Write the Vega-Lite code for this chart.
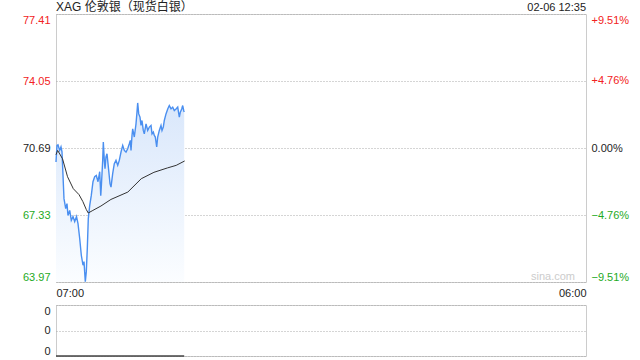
{
  "$schema": "https://vega.github.io/schema/vega-lite/v6.json",
  "padding": {"left": 15, "top": 0, "right": 0, "bottom": 0},
  "background": "white",
  "config": {
    "font": "Liberation Sans, Noto Sans CJK SC, sans-serif",
    "view": {"stroke": "#cccccc"},
    "axis": {"labelFontSize": 11, "labelColor": "#222222", "labelFont": "Liberation Sans", "domain": false, "ticks": false, "gridColor": "#aaaaaa", "gridDash": [1, 2], "gridWidth": 1}
  },
  "datasets": {
    "price": [
      {"t": 0, "price": 69.99}, {"t": 2.6, "price": 70.82}, {"t": 5.2, "price": 70.85}, {"t": 9.6, "price": 70.57},
      {"t": 13, "price": 70.75}, {"t": 15.6, "price": 70.5}, {"t": 18.2, "price": 69.32}, {"t": 20.8, "price": 68.15},
      {"t": 25.3, "price": 67.65}, {"t": 28.6, "price": 67.9}, {"t": 31.2, "price": 67.31}, {"t": 35.7, "price": 67.56},
      {"t": 39.8, "price": 67.06}, {"t": 44.3, "price": 67.25}, {"t": 48.7, "price": 67.0}, {"t": 53.4, "price": 67.25},
      {"t": 57.3, "price": 66.9}, {"t": 61.7, "price": 66.15}, {"t": 65.9, "price": 65.31}, {"t": 70.3, "price": 64.81},
      {"t": 72.9, "price": 64.99}, {"t": 76.3, "price": 63.99}, {"t": 78.9, "price": 64.49}, {"t": 81.5, "price": 65.65},
      {"t": 84.1, "price": 67.15}, {"t": 87.8, "price": 67.81}, {"t": 91.9, "price": 68.31}, {"t": 96.3, "price": 69.0},
      {"t": 100.7, "price": 69.25}, {"t": 104.9, "price": 69.31}, {"t": 109.4, "price": 69.0}, {"t": 113.8, "price": 69.5},
      {"t": 116.5, "price": 68.3}, {"t": 118, "price": 68.75}, {"t": 121.6, "price": 70.07}, {"t": 123.2, "price": 70.99},
      {"t": 125.8, "price": 70.07}, {"t": 127.6, "price": 69.65}, {"t": 130.2, "price": 70.25}, {"t": 132.8, "price": 70.4},
      {"t": 137.2, "price": 69.57}, {"t": 140.6, "price": 68.9}, {"t": 143.2, "price": 68.73}, {"t": 147.6, "price": 69.4},
      {"t": 151.8, "price": 69.9}, {"t": 156.2, "price": 70.07}, {"t": 160.7, "price": 69.82}, {"t": 164.8, "price": 70.07},
      {"t": 169.3, "price": 70.49}, {"t": 173.7, "price": 70.82}, {"t": 177.9, "price": 70.57}, {"t": 182.3, "price": 70.49},
      {"t": 186.7, "price": 70.65}, {"t": 190.9, "price": 70.9}, {"t": 193.5, "price": 71.07}, {"t": 195.3, "price": 70.57},
      {"t": 197.9, "price": 71.32}, {"t": 199.7, "price": 71.65}, {"t": 203.9, "price": 71.24}, {"t": 208.3, "price": 71.9},
      {"t": 210.9, "price": 72.49}, {"t": 212.7, "price": 72.95}, {"t": 215.4, "price": 72.4}, {"t": 218.7, "price": 72.24},
      {"t": 221.3, "price": 71.82}, {"t": 223.9, "price": 72.07}, {"t": 227.3, "price": 71.57}, {"t": 229.9, "price": 71.4},
      {"t": 234.4, "price": 71.9}, {"t": 238.8, "price": 71.57}, {"t": 243, "price": 71.74}, {"t": 247.4, "price": 71.82},
      {"t": 250, "price": 71.4}, {"t": 253.4, "price": 71.49}, {"t": 256, "price": 71.32}, {"t": 258.6, "price": 71.24},
      {"t": 262.2, "price": 70.74}, {"t": 264.8, "price": 71.24}, {"t": 269, "price": 71.57}, {"t": 273.4, "price": 71.82},
      {"t": 276, "price": 71.57}, {"t": 279.4, "price": 71.74}, {"t": 282, "price": 72.07}, {"t": 286.4, "price": 72.4},
      {"t": 290.9, "price": 72.65}, {"t": 295, "price": 72.82}, {"t": 299.5, "price": 72.65}, {"t": 303.9, "price": 72.74},
      {"t": 308, "price": 72.57}, {"t": 312.5, "price": 72.65}, {"t": 316.9, "price": 72.74}, {"t": 321.1, "price": 72.24},
      {"t": 323.7, "price": 72.49}, {"t": 327.3, "price": 72.65}, {"t": 329.9, "price": 72.82}, {"t": 332.5, "price": 72.57},
      {"t": 333.8, "price": 72.5}
    ],
    "avg": [
      {"t": 0, "price": 70.35}, {"t": 4.3, "price": 70.57}, {"t": 17, "price": 70.15}, {"t": 30, "price": 69.25},
      {"t": 45, "price": 68.65}, {"t": 60, "price": 68.35}, {"t": 70, "price": 68.0}, {"t": 79, "price": 67.6},
      {"t": 84, "price": 67.43}, {"t": 96, "price": 67.56}, {"t": 117, "price": 67.78}, {"t": 143, "price": 68.11},
      {"t": 187, "price": 68.48}, {"t": 222, "price": 69.15}, {"t": 255, "price": 69.47}, {"t": 290, "price": 69.69},
      {"t": 313, "price": 69.82}, {"t": 335, "price": 70.04}
    ]
  },
  "spacing": 23,
  "bounds": "flush",
  "vconcat": [
    {
      "width": 530,
      "height": 268,
      "layer": [
        {
          "data": {"name": "price"},
          "layer": [
            {
              "mark": {"type": "area", "clip": true, "color": {"gradient": "linear", "x1": 0, "y1": 0, "x2": 0, "y2": 1, "stops": [{"offset": 0, "color": "#d9e7fb"}, {"offset": 1, "color": "#fbfdff"}]}},
              "encoding": {
                "x": {"field": "t", "type": "quantitative", "title": null, "scale": {"domain": [0, 1380], "nice": false, "zero": false},
                  "axis": {"values": [0, 1380], "labelExpr": "datum.value == 0 ? '07:00' : '06:00'", "labelFlush": true, "labelPadding": 5, "grid": false}},
                "y": {"field": "price", "type": "quantitative", "title": null, "scale": {"domain": [63.97, 77.41], "nice": false, "zero": false},
                  "axis": {"values": [63.97, 67.33, 70.69, 74.05, 77.41], "format": ".2f", "labelFlush": true, "labelPadding": 6, "minExtent": 40, "maxExtent": 40, "grid": true,
                    "labelColor": {"condition": [{"test": "datum.value > 71", "value": "#f22222"}, {"test": "datum.value < 70", "value": "#1eaa1e"}], "value": "#222222"}}},
                "y2": {"datum": 63.97}
              }
            },
            {
              "mark": {"type": "line", "color": "#4a8ff0", "strokeWidth": 1.4},
              "encoding": {"x": {"field": "t", "type": "quantitative"}, "y": {"field": "price", "type": "quantitative"}}
            },
            {
              "data": {"name": "avg"},
              "mark": {"type": "line", "color": "#333333", "strokeWidth": 1},
              "encoding": {"x": {"field": "t", "type": "quantitative"}, "y": {"field": "price", "type": "quantitative"}}
            },
            {
              "data": {"values": [{"label": "sina.com"}]},
              "mark": {"type": "text", "align": "right", "baseline": "bottom", "dx": -11, "dy": 0, "fontSize": 11, "color": "#cccccc"},
              "encoding": {"x": {"datum": 1380}, "y": {"datum": 63.97}, "text": {"field": "label"}}
            },
            {
              "data": {"values": [{"label": "02-06 12:35"}]},
              "mark": {"type": "text", "align": "right", "baseline": "alphabetic", "dy": -3, "fontSize": 11, "color": "#222222"},
              "encoding": {"x": {"datum": 1380}, "y": {"datum": 77.41}, "text": {"field": "label"}}
            },
            {
              "data": {"values": [{"label": "XAG 伦敦银（现货白银）"}]},
              "mark": {"type": "text", "align": "left", "baseline": "alphabetic", "dy": -3, "fontSize": 12, "color": "#222222"},
              "encoding": {"x": {"datum": 0}, "y": {"datum": 77.41}, "text": {"field": "label"}}
            }
          ]
        },
        {
          "data": {"values": [{"pct": -9.51}, {"pct": 9.51}]},
          "mark": {"type": "point", "opacity": 0},
          "encoding": {
            "y": {"field": "pct", "type": "quantitative", "title": null, "scale": {"domain": [-9.51, 9.51], "nice": false, "zero": false},
              "axis": {"orient": "right", "values": [-9.51, -4.76, 0, 4.76, 9.51], "labelExpr": "(datum.value > 0 ? '+' : '') + format(datum.value, '.2f') + '%'", "labelFlush": true, "labelPadding": 5, "grid": false,
                "labelColor": {"condition": [{"test": "datum.value > 0.1", "value": "#f22222"}, {"test": "datum.value < -0.1", "value": "#1eaa1e"}], "value": "#222222"}}}
          }
        }
      ],
      "resolve": {"scale": {"y": "independent"}}
    },
    {
      "width": 530,
      "height": 51,
      "data": {"name": "price"},
      "mark": {"type": "line", "color": "#444444", "strokeWidth": 1.5},
      "encoding": {
        "x": {"field": "t", "type": "quantitative", "scale": {"domain": [0, 1380], "nice": false, "zero": false}, "axis": null},
        "y": {"datum": 0, "type": "quantitative", "title": null, "scale": {"domain": [0, 2], "nice": false, "zero": false},
          "axis": {"values": [0, 1, 2], "labelExpr": "'0'", "labelFlush": true, "labelPadding": 6, "minExtent": 40, "maxExtent": 40, "grid": true}}
      }
    }
  ]
}
